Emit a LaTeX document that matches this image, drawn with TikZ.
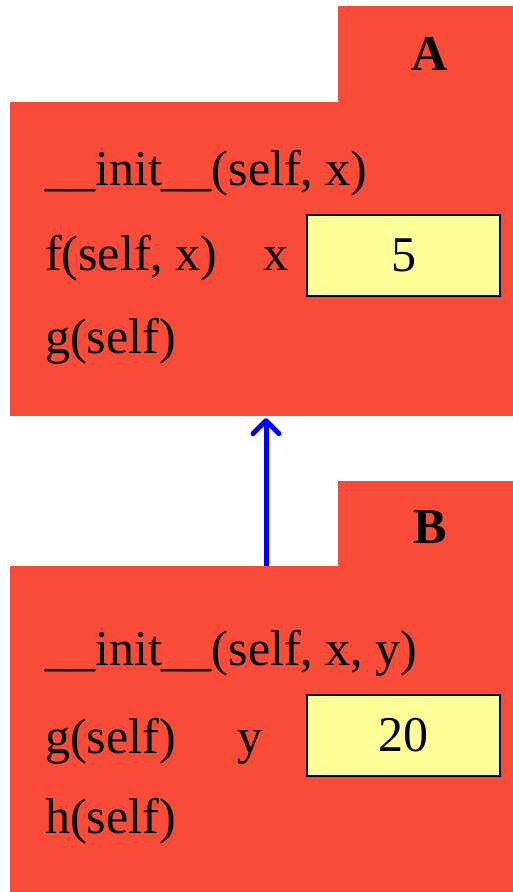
\documentclass[tikz,border=0pt]{standalone}
\usepackage{fontspec}
\setmainfont{Liberation Serif}
\usetikzlibrary{arrows.meta}
\definecolor{boxred}{RGB}{249,76,56}
\definecolor{valyellow}{RGB}{255,255,153}
\tikzset{
  classpart/.style={fill=boxred, draw=none, inner sep=0pt, rectangle},
  valbox/.style={fill=valyellow, draw=black, line width=2.5pt, inner sep=0pt, rectangle,
    minimum width=193pt, minimum height=81pt, font=\fontsize{50}{60}\selectfont},
  txt/.style={anchor=base west, inner sep=0pt, font=\fontsize{50}{60}\selectfont},
  classname/.style={anchor=base, inner sep=0pt, font=\fontsize{50}{60}\selectfont\bfseries},
  inherit/.style={draw=blue, line width=5pt, -{Straight Barb[length=13pt,width=26pt,line cap=round,line join=round]}}
}
\newcommand{\dunder}{\_\kern-0.5pt\_\kern0pt}
\begin{document}
\begin{tikzpicture}[x=1pt,y=-1pt]
\useasboundingbox (0,0) rectangle (513,892);
% class A
\node[classpart, minimum width=175pt, minimum height=96pt] (Atab) at (425.5,54) {};
\node[classpart, minimum width=503pt, minimum height=314pt] (Abody) at (261.5,259) {};
\node[classname] (Aname) at (430,70) {A};
\node[txt] (Ainit) at (45,185) {\_\_init\_\_(self, x)};
\node[txt] (Af) at (45,270) {f(self, x)};
\node[txt] (Ag) at (45,353) {g(self)};
\node[txt] (Ax) at (263,270) {x};
\node[valbox] (Axval) at (403.5,255.5) {5};
% class B
\node[classpart, minimum width=175pt, minimum height=85pt] (Btab) at (425.5,523.5) {};
\node[classpart, minimum width=503pt, minimum height=326pt] (Bbody) at (261.5,729) {};
\node[classname] (Bname) at (430,543) {B};
\node[txt] (Binit) at (45,665) {\_\_init\_\_(self, x, y)};
\node[txt] (Bg) at (45,753) {g(self)};
\node[txt] (Bh) at (45,833) {h(self)};
\node[txt] (By) at (237,753) {y};
\node[valbox] (Byval) at (403.5,735.5) {20};
% inheritance arrow
\coordinate (arrx) at (266,0);
\draw[inherit, shorten >=2pt] (Bbody.north -| arrx) -- (Abody.south -| arrx);
\end{tikzpicture}
\end{document}
